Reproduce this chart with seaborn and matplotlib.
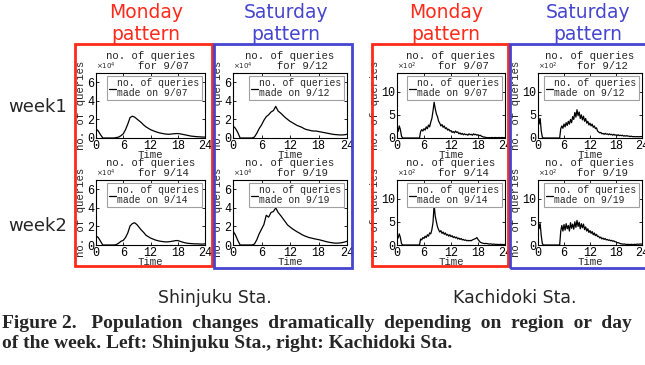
import numpy as np
import matplotlib
matplotlib.use("Agg")
import matplotlib.pyplot as plt
from matplotlib.patches import Rectangle
import seaborn as sns

# Hour grids: Shinjuku read every 30 min, Kachidoki every 15 min
shin_hours = np.arange(0, 24.5, 0.5)
kachi_hours = np.arange(0, 24.25, 0.25)

# Shinjuku queries (x10^4)
shin_mon_0907 = [1.0, 0.75, 0.35, 0.0, 0, 0, 0, 0, 0,
                 0.05, 0.1, 0.25, 0.45, 0.9, 1.5, 2.2, 2.35, 2.25, 2.05,
                 1.85, 1.65, 1.4, 1.2, 1.05, 0.9, 0.8, 0.7, 0.62, 0.55,
                 0.5, 0.45, 0.42, 0.4, 0.42, 0.45, 0.47, 0.48, 0.45, 0.4,
                 0.35, 0.3, 0.25, 0.2, 0.18, 0.15, 0.13, 0.12, 0.1, 0.1]
shin_mon_0914 = [1.0, 0.8, 0.4, 0.0, 0, 0, 0, 0, 0,
                 0.05, 0.2, 0.4, 0.5, 0.8, 1.3, 2.05, 2.3, 2.4, 2.2,
                 1.9, 1.6, 1.35, 1.05, 0.9, 0.75, 0.65, 0.55, 0.48, 0.42,
                 0.38, 0.35, 0.33, 0.35, 0.38, 0.42, 0.47, 0.48, 0.4, 0.32,
                 0.25, 0.2, 0.17, 0.15, 0.13, 0.12, 0.12, 0.1, 0.1, 0.12]
shin_sat_0912 = [1.3, 1.05, 0.6, 0.0, 0, 0, 0, 0, 0,
                 0.1, 0.5, 1.0, 1.4, 1.9, 2.3, 2.5, 2.8, 2.95, 3.4,
                 2.9, 2.7, 2.45, 2.2, 2.0, 1.8, 1.65, 1.5, 1.35, 1.25,
                 1.15, 1.0, 0.9, 0.85, 0.78, 0.75, 0.75, 0.7, 0.65, 0.6,
                 0.55, 0.5, 0.45, 0.4, 0.37, 0.35, 0.33, 0.33, 0.35, 0.4]
shin_sat_0919 = [1.5, 1.1, 0.5, 0.0, 0, 0, 0, 0, 0,
                 0.1, 0.55, 1.2, 1.7, 2.2, 3.2, 3.0, 3.5, 3.6, 4.0,
                 3.5, 3.2, 2.85, 2.5, 2.15, 1.95, 1.75, 1.58, 1.42, 1.28,
                 1.12, 1.0, 0.9, 0.8, 0.75, 0.68, 0.63, 0.58, 0.52, 0.45,
                 0.38, 0.32, 0.27, 0.23, 0.2, 0.2, 0.22, 0.26, 0.32, 0.4]

# Kachidoki queries (x10^2)
kachi_mon_0907 = [2.5, 1.4, 2.6, 1.8, 0.4, 0, 0, 0,
                  0, 0, 0, 0, 0, 0, 0, 0,
                  0, 0, 0, 0, 0, 1.4, 1.8, 1.5,
                  2.0, 1.7, 2.4, 2.0, 2.8, 2.4, 3.4, 4.2,
                  5.8, 7.7, 6.3, 5.2, 4.6, 3.6, 3.2, 2.6,
                  2.9, 2.3, 2.6, 2.0, 2.2, 1.7, 1.9, 1.5,
                  1.6, 1.2, 1.4, 1.1, 1.5, 1.2, 1.3, 0.9,
                  1.1, 0.8, 1.0, 0.7, 0.9, 0.7, 0.8, 0.6,
                  0.9, 0.7, 0.8, 0.6, 0.9, 0.7, 0.8, 0.6,
                  0.7, 0.5, 0.6, 0.4, 0.3, 0.2, 0.2, 0.1,
                  0.1, 0.05, 0.1, 0.05, 0.1, 0.1, 0.05, 0.1,
                  0.1, 0.05, 0.1, 0.1, 0.05, 0.1, 0.1, 0.05,
                  0.1]
kachi_mon_0914 = [2.3, 1.5, 2.4, 1.6, 0.3, 0, 0, 0,
                  0, 0, 0, 0, 0, 0, 0, 0,
                  0, 0, 0, 0, 0, 1.3, 1.1, 1.6,
                  1.4, 1.9, 1.6, 2.2, 1.9, 2.6, 2.4, 3.3,
                  4.8, 8.7, 6.2, 5.0, 3.9, 3.3, 2.8, 3.1,
                  2.5, 2.8, 2.3, 2.6, 2.1, 2.3, 1.9, 2.2,
                  1.8, 2.0, 1.6, 1.8, 1.5, 1.7, 1.3, 1.5,
                  1.2, 1.4, 1.1, 1.2, 1.0, 1.1, 0.9, 1.0,
                  0.9, 1.0, 0.9, 1.1, 1.2, 1.3, 1.4, 1.6,
                  1.2, 0.9, 0.6, 0.5, 0.4, 0.35, 0.3, 0.35,
                  0.3, 0.25, 0.2, 0.25, 0.2, 0.15, 0.2, 0.15,
                  0.1, 0.15, 0.1, 0.1, 0.15, 0.1, 0.1, 0.1,
                  0.1]
kachi_sat_0912 = [5.5, 3.0, 4.2, 1.5, 0.2, 0, 0, 0,
                  0, 0, 0, 0, 0, 0, 0, 0,
                  0, 0, 0, 0, 0, 2.0, 2.6, 2.1,
                  3.0, 2.4, 3.3, 2.7, 3.6, 3.0, 4.0, 3.3,
                  4.6, 4.0, 5.5, 4.5, 6.1, 4.8, 5.6, 4.2,
                  5.0, 3.9, 4.7, 3.6, 4.2, 3.2, 3.6, 2.8,
                  3.2, 2.6, 3.0, 2.3, 2.6, 2.0, 2.2, 1.5,
                  1.3, 1.1, 1.2, 0.9, 1.0, 0.8, 1.0, 0.8,
                  0.9, 0.7, 0.9, 0.7, 0.8, 0.6, 0.8, 0.6,
                  0.7, 0.5, 0.7, 0.5, 0.6, 0.5, 0.6, 0.4,
                  0.5, 0.4, 0.5, 0.4, 0.4, 0.3, 0.4, 0.3,
                  0.3, 0.3, 0.25, 0.3, 0.3, 0.25, 0.3, 0.3,
                  0.3]
kachi_sat_0919 = [5.6, 3.5, 4.6, 2.0, 0.3, 0, 0, 0,
                  0, 0, 0, 0, 0, 0, 0, 0,
                  0, 0, 0, 0, 0, 3.0, 4.2, 3.0,
                  4.4, 3.2, 4.6, 3.5, 4.2, 3.0, 4.8, 3.6,
                  4.5, 3.4, 5.0, 3.8, 5.3, 4.0, 4.9, 3.5,
                  4.6, 3.7, 4.5, 3.3, 3.9, 3.0, 3.5, 2.7,
                  3.1, 2.5, 2.9, 2.2, 2.6, 2.0, 2.3, 1.8,
                  1.9, 1.5, 1.7, 1.3, 1.5, 1.2, 1.4, 1.1,
                  1.2, 1.0, 1.1, 0.9, 1.0, 0.8, 0.9, 0.7,
                  0.7, 0.5, 0.5, 0.4, 0.3, 0.25, 0.2, 0.2,
                  0.2, 0.15, 0.1, 0.15, 0.1, 0.1, 0.15, 0.1,
                  0.1, 0.15, 0.1, 0.15, 0.2, 0.15, 0.2, 0.2,
                  0.2]

x_ticks = [0, 6, 12, 18, 24]
shin_yticks = [0, 2, 4, 6]
kachi_yticks = [0, 5, 10]

sns.set_theme(style="ticks")
plt.rcParams["font.family"] = ["Liberation Mono", "DejaVu Sans"]

W, H = 645, 365
fig = plt.figure(figsize=(W / 100, H / 100), dpi=100)

RED = "#ff2a1a"
BLUE = "#4545d0"
MONO = "Liberation Mono"
SANS = "DejaVu Sans"


def px_axes(left, top, right, bottom):
    return fig.add_axes([left / W, 1 - bottom / H, (right - left) / W, (bottom - top) / H])


def draw_panel(ax, hours, values, day, yticks, ymax, exponent):
    sns.lineplot(x=hours, y=values, ax=ax, color="black", linewidth=0.9,
                 label=f"no. of queries\nmade on {day}")
    ax.set_xlim(0, 24)
    ax.set_ylim(0, ymax)
    ax.set_xticks(x_ticks)
    ax.set_yticks(yticks)
    ax.tick_params(direction="in", length=2, width=0.6, labelsize=8.5, pad=1.5,
                   top=True, right=True, colors="black")
    for s in ax.spines.values():
        s.set_linewidth(0.8)
        s.set_color("black")
    ax.set_xlabel("Time", fontsize=7.7, labelpad=-1.5)
    ax.set_ylabel("no. of queries", fontsize=7.7, labelpad=1)
    ax.set_title(f"no. of queries\n     for {day}", fontsize=7.7, pad=3,
                 multialignment="left", linespacing=0.95)
    ax.text(0, 1.01, r"$\times10^{%d}$" % exponent, transform=ax.transAxes,
            fontsize=5, va="bottom", ha="left", family=SANS)
    leg = ax.legend(loc="upper right", frameon=True, fancybox=False,
                    edgecolor="#a0a0a0", framealpha=1, handlelength=0.7,
                    handletextpad=0.15, borderpad=0.25, borderaxespad=0.3,
                    prop={"family": MONO, "size": 7})
    leg.get_frame().set_linewidth(0.8)
    for t in leg.get_texts():
        t.set_linespacing(0.9)


rows = [(73, 138), (180, 245)]
cols = [(96, 205), (233, 347), (397, 505), (538, 642)]

panels = [
    (0, 0, shin_hours, shin_mon_0907, "9/07", shin_yticks, 7, 4),
    (0, 1, shin_hours, shin_sat_0912, "9/12", shin_yticks, 7, 4),
    (1, 0, shin_hours, shin_mon_0914, "9/14", shin_yticks, 7, 4),
    (1, 1, shin_hours, shin_sat_0919, "9/19", shin_yticks, 7, 4),
    (0, 2, kachi_hours, kachi_mon_0907, "9/07", kachi_yticks, 14, 2),
    (0, 3, kachi_hours, kachi_sat_0912, "9/12", kachi_yticks, 14, 2),
    (1, 2, kachi_hours, kachi_mon_0914, "9/14", kachi_yticks, 14, 2),
    (1, 3, kachi_hours, kachi_sat_0919, "9/19", kachi_yticks, 14, 2),
]

for r, c, hrs, vals, day, yt, ymax, ex in panels:
    top, bottom = rows[r]
    left, right = cols[c]
    ax = px_axes(left, top, right, bottom)
    draw_panel(ax, hrs, vals, day, yt, ymax, ex)

# Pattern boxes
boxes = [(75, 44, 212, 266, RED), (214, 44, 352, 268, BLUE),
         (372, 44, 508, 266, RED), (510, 44, 650, 268, BLUE)]
for x0, y0, x1, y1, col in boxes:
    fig.add_artist(Rectangle((x0 / W, 1 - y1 / H), (x1 - x0) / W, (y1 - y0) / H,
                             transform=fig.transFigure, fill=False,
                             edgecolor=col, linewidth=2))

# Headers
for xc, name, col in [(146, "Monday", RED), (286, "Saturday", BLUE),
                      (446, "Monday", RED), (588, "Saturday", BLUE)]:
    fig.text(xc / W, 1 - 23.5 / H, f"{name}\npattern", color=col, fontsize=13.5,
             family=SANS, ha="center", va="center", linespacing=1.15)

fig.text(38 / W, 1 - 107 / H, "week1", fontsize=13, family=SANS, ha="center", va="center")
fig.text(38 / W, 1 - 226 / H, "week2", fontsize=13, family=SANS, ha="center", va="center")

fig.text(215 / W, 1 - 298 / H, "Shinjuku Sta.", fontsize=12.5, family=SANS,
         ha="center", va="center")
fig.text(515 / W, 1 - 298 / H, "Kachidoki Sta.", fontsize=12.5, family=SANS,
         ha="center", va="center")

# caption: first line is justified in the source, hence the wider gaps
fig.text(2 / W, 1 - 324 / H,
         "Figure 2.   Population  changes  dramatically  depending  on  region  or  day",
         fontsize=14, family="Liberation Serif", weight="bold", ha="left", va="center")
fig.text(2 / W, 1 - 344 / H,
         "of the week. Left: Shinjuku Sta., right: Kachidoki Sta.",
         fontsize=14, family="Liberation Serif", weight="bold", ha="left", va="center")

fig.savefig("out.png", dpi=100)
